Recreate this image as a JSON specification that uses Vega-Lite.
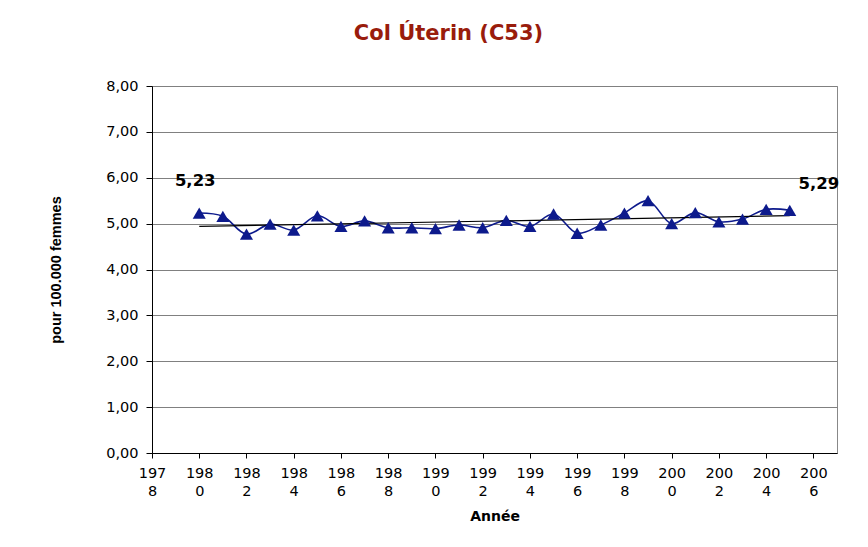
{
  "$schema": "https://vega.github.io/schema/vega-lite/v6.json",
  "width": 685,
  "height": 367,
  "autosize": {"type": "none"},
  "padding": {"left": 152, "top": 86, "right": 31, "bottom": 94},
  "background": "white",
  "title": {
    "text": "Col Úterin (C53)",
    "font": "DejaVu Sans",
    "fontSize": 21,
    "fontWeight": "bold",
    "color": "#991C0C",
    "anchor": "middle",
    "offset": 34,
    "dx": -46
  },
  "config": {
    "locale": {"number": {"decimal": ",", "thousands": ".", "grouping": [3], "currency": ["", " €"]}},
    "view": {"stroke": "#888888", "strokeWidth": 1},
    "font": "DejaVu Sans"
  },
  "data": {
    "values": [
      {"year": 1980, "rate": 5.23},
      {"year": 1981, "rate": 5.16},
      {"year": 1982, "rate": 4.77},
      {"year": 1983, "rate": 4.99},
      {"year": 1984, "rate": 4.86},
      {"year": 1985, "rate": 5.17},
      {"year": 1986, "rate": 4.94},
      {"year": 1987, "rate": 5.06},
      {"year": 1988, "rate": 4.91},
      {"year": 1989, "rate": 4.91},
      {"year": 1990, "rate": 4.89},
      {"year": 1991, "rate": 4.97},
      {"year": 1992, "rate": 4.91},
      {"year": 1993, "rate": 5.07},
      {"year": 1994, "rate": 4.94},
      {"year": 1995, "rate": 5.21},
      {"year": 1996, "rate": 4.79},
      {"year": 1997, "rate": 4.97},
      {"year": 1998, "rate": 5.23},
      {"year": 1999, "rate": 5.50},
      {"year": 2000, "rate": 5.00},
      {"year": 2001, "rate": 5.24},
      {"year": 2002, "rate": 5.04},
      {"year": 2003, "rate": 5.10},
      {"year": 2004, "rate": 5.31},
      {"year": 2005, "rate": 5.29}
    ]
  },
  "encoding": {
    "x": {
      "field": "year",
      "type": "quantitative",
      "scale": {"domain": [1978, 2007], "nice": false, "zero": false},
      "axis": {
        "title": "Année",
        "titleFont": "DejaVu Sans",
        "titleFontSize": 14,
        "titleFontWeight": "bold",
        "titleColor": "black",
        "titlePadding": 12,
        "values": [1978, 1980, 1982, 1984, 1986, 1988, 1990, 1992, 1994, 1996, 1998, 2000, 2002, 2004, 2006],
        "format": "d",
        "labelExpr": "[slice(toString(datum.value), 0, 3), slice(toString(datum.value), 3)]",
        "labelFont": "DejaVu Sans",
        "labelFontSize": 14.5,
        "labelColor": "black",
        "labelLineHeight": 18,
        "labelPadding": 8,
        "labelFlush": false,
        "labelOverlap": false,
        "grid": false,
        "domainColor": "black",
        "tickColor": "black",
        "tickSize": 5
      }
    },
    "y": {
      "field": "rate",
      "type": "quantitative",
      "scale": {"domain": [0, 8], "nice": false},
      "axis": {
        "title": "pour 100.000 femmes",
        "titleFont": "Liberation Sans",
        "titleFontSize": 14.5,
        "titleFontWeight": "bold",
        "titleColor": "black",
        "titlePadding": 42,
        "values": [0, 1, 2, 3, 4, 5, 6, 7, 8],
        "format": ".2f",
        "labelFont": "DejaVu Sans",
        "labelFontSize": 14.5,
        "labelColor": "black",
        "labelPadding": 8,
        "grid": true,
        "gridColor": "#808080",
        "gridWidth": 1,
        "domainColor": "black",
        "tickColor": "black",
        "tickSize": 6
      }
    }
  },
  "layer": [
    {
      "mark": {"type": "line", "interpolate": "catmull-rom", "color": "#0D1A8C", "strokeWidth": 1.6}
    },
    {
      "transform": [{"regression": "rate", "on": "year", "extent": [1980, 2005]}],
      "mark": {"type": "line", "color": "black", "strokeWidth": 1.2}
    },
    {
      "mark": {"type": "point", "shape": "triangle-up", "filled": true, "color": "#0D1A8C", "opacity": 1, "size": 170}
    },
    {
      "transform": [{"filter": "datum.year == 1980"}],
      "mark": {"type": "text", "font": "DejaVu Sans", "fontSize": 16.5, "fontWeight": "bold", "color": "black", "dx": -4, "dy": -32},
      "encoding": {"text": {"field": "rate", "type": "quantitative", "format": ".2f"}}
    },
    {
      "transform": [{"filter": "datum.year == 2005"}],
      "mark": {"type": "text", "font": "DejaVu Sans", "fontSize": 16.5, "fontWeight": "bold", "color": "black", "dx": 29, "dy": -26},
      "encoding": {"text": {"field": "rate", "type": "quantitative", "format": ".2f"}}
    }
  ]
}
